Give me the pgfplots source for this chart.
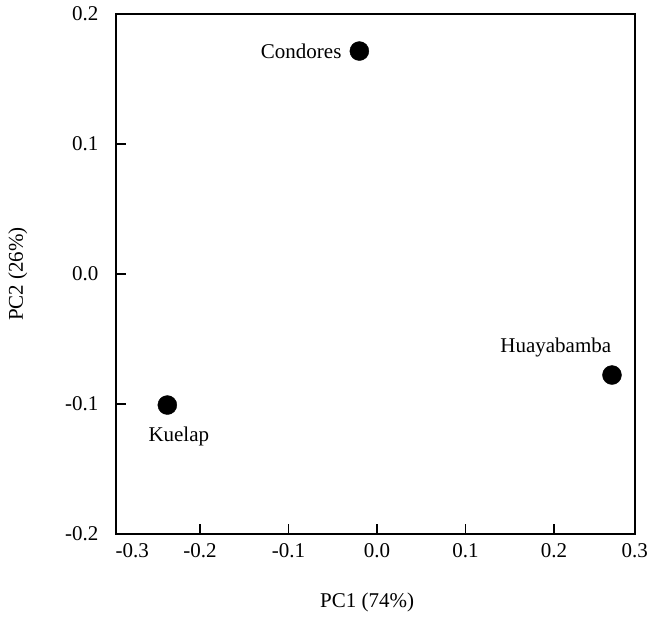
\documentclass[border=0pt]{standalone}
\usepackage{fontspec}
\setmainfont{Liberation Serif}
\usepackage{pgfplots}
\pgfplotsset{compat=1.18}

\begin{document}
\begin{tikzpicture}[font=\fontsize{21}{25}\selectfont]
\begin{axis}[
    scale only axis,
    width=519pt,
    height=520pt,
    xmin=-0.295, xmax=0.2915,
    ymin=-0.2, ymax=0.2,
    xtick={-0.2,-0.1,0.0,0.1,0.2},
    xticklabels={-0.2,-0.1,0.0,0.1,0.2},
    extra x ticks={-0.2765,0.2912},
    extra x tick labels={-0.3,0.3},
    extra x tick style={major tick length=0pt},
    ytick={-0.2,-0.1,0.0,0.1,0.2},
    yticklabels={-0.2,-0.1,0.0,0.1,0.2},
    xtick pos=bottom, ytick pos=left,
    tick align=inside,
    major tick length=10pt,
    axis line style={line width=2.6pt},
    tick style={line width=1.4pt, black},
    ticklabel style={font=\fontsize{21}{25}\selectfont},
    xticklabel style={yshift=-6pt},
    yticklabel style={xshift=-14pt},
    xlabel={PC1 (74\%)},
    ylabel={PC2 (26\%)},
    label style={font=\fontsize{21}{25}\selectfont},
    xlabel style={at={(axis description cs:0.484,-0.131)}, anchor=center},
    ylabel style={at={(axis description cs:-0.189,0.5)}, anchor=center},
    clip=false,
]
\addplot[only marks, mark=*, mark size=9.5pt, black] coordinates {
    (-0.020, 0.1715)
    (-0.237, -0.1008)
    (0.2655, -0.0777)
};
\node[anchor=east, inner sep=0pt] at (axis cs:-0.040,0.1715) {Condores};
\node[anchor=center] at (axis cs:-0.224,-0.125) {Kuelap};
\node[anchor=center] at (axis cs:0.202,-0.0562) {Huayabamba};
\end{axis}
\pgfresetboundingbox
\useasboundingbox ([shift={(-116pt,-84pt)}]current axis.south west) rectangle ([shift={(20pt,14pt)}]current axis.north east);
\end{tikzpicture}
\end{document}
